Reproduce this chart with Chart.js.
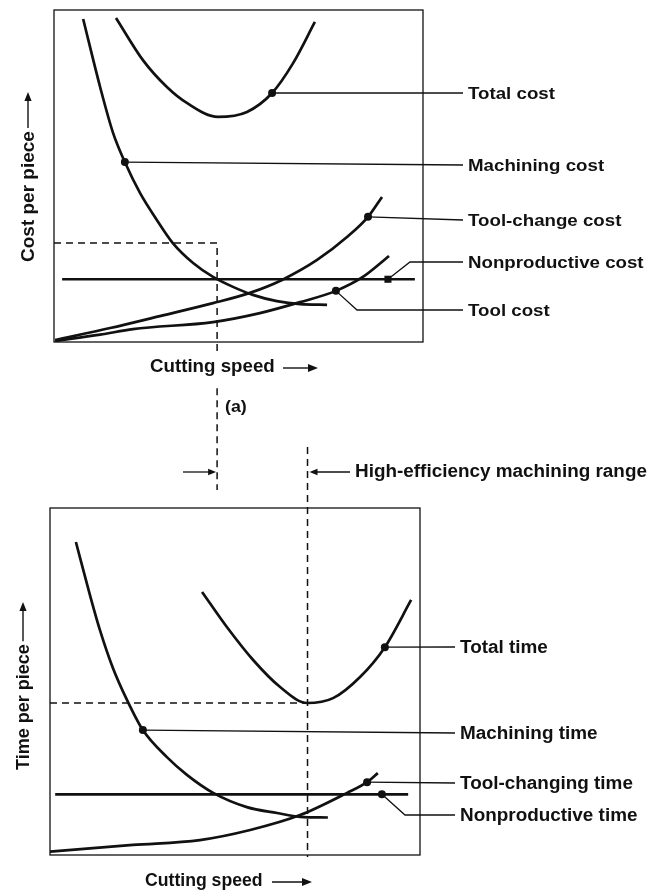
<!DOCTYPE html>
<html>
<head>
<meta charset="utf-8">
<script src="https://cdn.jsdelivr.net/npm/chart.js@4.4.1/dist/chart.umd.min.js"></script>
<style>
  body { margin: 0; background: #fff; }
  #wrap { position: relative; width: 653px; height: 892px; }
  canvas { position: absolute; left: 0; }
  #costChart { top: 0; }
  #timeChart { top: 430px; }
</style>
</head>
<body>
<div id="wrap">
  <canvas id="costChart" width="653" height="500"></canvas>
  <canvas id="timeChart" width="653" height="462"></canvas>
</div>
<script>
// --- (a) cost per piece (0-100 units) ---
const costTotalX = [16.8, 24.1, 30.6, 36.0, 44.4, 52.3, 59.1, 64.8, 70.7];
const costTotalY = [97.6, 84.9, 76.8, 72.0, 67.8, 69.3, 75.0, 84.0, 96.4];
const costMachX = [7.9, 12.5, 16.0, 19.2, 23.3, 27.9, 32.2, 37.7, 43.1, 48.5, 53.9, 60.4, 66.7, 74.0];
const costMachY = [97.3, 76.8, 63.0, 54.2, 44.9, 36.7, 29.8, 23.8, 19.6, 16.6, 14.2, 12.3, 11.4, 11.2];
const costChangeX = [0.3, 15.2, 28.7, 43.1, 53.1, 61.8, 71.3, 79.4, 85.1, 88.9];
const costChangeY = [0.6, 4.2, 7.8, 11.7, 14.8, 18.7, 24.7, 31.6, 37.7, 43.7];
const costNonprodX = [2.2, 90.5, 97.8];
const costNonprodY = [18.9, 18.9, 18.9];
const costToolX = [0.3, 12.5, 21.4, 43.1, 55.8, 66.7, 76.4, 83.7, 90.8];
const costToolY = [0.3, 2.2, 3.9, 6.0, 8.7, 12.0, 15.4, 19.6, 25.9];
const costGuideX = [0, 44.2, 44.2, 44.2, 44.2, 44.2];
const costGuideY = [29.8, 29.8, -3, null, -13.9, -44.6];
const costLabels = ['Total cost', 'Machining cost', 'Tool-change cost', 'Nonproductive cost', 'Tool cost'];

// --- (b) time per piece ---
const timeTotalX = [41.1, 47.8, 54.9, 62.2, 69.5, 76.5, 83.8, 90.5, 97.6];
const timeTotalY = [75.8, 65.7, 56.2, 48.4, 43.8, 45.2, 51.3, 59.9, 73.5];
const timeMachX = [7.0, 10.8, 13.5, 17.0, 20.8, 25.1, 31.6, 37.0, 44.1, 53.2, 61.4, 67.6, 75.1];
const timeMachY = [90.2, 74.9, 64.8, 53.9, 44.7, 36.0, 28.2, 23.1, 17.9, 13.8, 12.1, 11.0, 10.8];
const timeChangeX = [0, 22.4, 40.5, 54.1, 67.6, 80.3, 85.7, 88.6];
const timeChangeY = [1.0, 2.9, 4.3, 7.2, 11.5, 17.9, 21.0, 23.6];
const timeNonprodX = [1.4, 89.7, 96.8];
const timeNonprodY = [17.5, 17.5, 17.5];
const timeGuideHX = [0, 69.6];
const timeGuideHY = [43.8, 43.8];
const timeGuideVX = [69.6, 69.6];
const timeGuideVY = [117.6, -0.6];
const timeLabels = ['Total time', 'Machining time', 'Tool-changing time', 'Nonproductive time'];

const INK = '#111';
const FONT = '"Liberation Sans", Arial, sans-serif';

const pts = (xs, ys) => xs.map((x, i) => ({ x: x, y: ys[i] }));

function curve(xs, ys, mark, style) {
    return {
        data: pts(xs, ys),
        showLine: true,
        borderColor: INK,
        borderWidth: 2.7,
        cubicInterpolationMode: 'monotone',
        pointRadius: xs.map((_, i) => i === mark ? (style === 'rect' ? 5 : 4) : 0),
        pointBackgroundColor: INK,
        pointBorderWidth: 0,
        pointStyle: style || 'circle'
    };
}

function guide(xs, ys) {
    return {
        data: pts(xs, ys),
        showLine: true,
        borderColor: INK,
        borderWidth: 1.5,
        borderDash: [7, 5],
        tension: 0,
        pointRadius: 0,
        spanGaps: false,
        clip: false
    };
}

function arrow(ctx, x1, y1, x2, y2, head) {
    const ang = Math.atan2(y2 - y1, x2 - x1);
    ctx.beginPath();
    ctx.moveTo(x1, y1);
    ctx.lineTo(x2 - Math.cos(ang) * head * 0.6, y2 - Math.sin(ang) * head * 0.6);
    ctx.stroke();
    ctx.beginPath();
    ctx.moveTo(x2, y2);
    ctx.lineTo(x2 - Math.cos(ang) * head - Math.sin(ang) * head * 0.4, y2 - Math.sin(ang) * head + Math.cos(ang) * head * 0.4);
    ctx.lineTo(x2 - Math.cos(ang) * head + Math.sin(ang) * head * 0.4, y2 - Math.sin(ang) * head - Math.cos(ang) * head * 0.4);
    ctx.closePath();
    ctx.fill();
}

// the scanned lettering is a little wider than Liberation Sans
function wideText(ctx, text, x, y, sx) {
    ctx.save();
    ctx.translate(x, y);
    ctx.scale(sx, 1);
    ctx.fillText(text, 0, 0);
    ctx.restore();
}

// draws the frame, leader lines, labels and axis titles
const figurePlugin = {
    id: 'figure',
    afterDatasetsDraw(chart, args, o) {
        const ctx = chart.ctx;
        const a = chart.chartArea;
        ctx.save();
        ctx.strokeStyle = INK;
        ctx.fillStyle = INK;
        ctx.lineWidth = 1.3;
        ctx.strokeRect(a.left, a.top, a.right - a.left, a.bottom - a.top);

        ctx.font = 'bold ' + o.labelSize + 'px ' + FONT;
        ctx.textBaseline = 'middle';
        ctx.lineWidth = 1.3;
        o.leaders.forEach(l => {
            const p = chart.getDatasetMeta(l.ds).data[l.idx];
            ctx.beginPath();
            ctx.moveTo(p.x, p.y);
            (l.via || []).forEach(v => ctx.lineTo(v[0], v[1]));
            ctx.lineTo(o.leaderEnd, l.y);
            ctx.stroke();
            wideText(ctx, l.text, o.textX, l.y + 1, o.stretch);
        });

        // y title, rotated, with arrow
        const yt = o.yTitle;
        ctx.save();
        ctx.translate(yt.x, yt.y);
        ctx.rotate(-Math.PI / 2);
        ctx.font = 'bold ' + yt.size + 'px ' + FONT;
        ctx.textBaseline = 'alphabetic';
        ctx.fillText(yt.text, 0, 0);
        const w = ctx.measureText(yt.text).width;
        ctx.lineWidth = 1.4;
        arrow(ctx, w + 3, -6, yt.arrowTo, -6, 9);
        ctx.restore();

        // x title with arrow
        const xt = o.xTitle;
        ctx.font = 'bold ' + xt.size + 'px ' + FONT;
        ctx.textBaseline = 'middle';
        wideText(ctx, xt.text, xt.x, xt.y, xt.sx);
        ctx.lineWidth = 1.4;
        arrow(ctx, xt.arrowFrom, xt.y + 1, xt.arrowTo, xt.y + 1, 10);

        (o.notes || []).forEach(n => {
            ctx.font = 'bold ' + n.size + 'px ' + FONT;
            wideText(ctx, n.text, n.x, n.y, n.sx);
        });
        (o.pointers || []).forEach(p => {
            const gx = chart.scales.x.getPixelForValue(p.at) + p.off;
            ctx.lineWidth = 1.3;
            arrow(ctx, p.from, p.y, gx, p.y, 8);
        });
        ctx.restore();
    }
};

function makeChart(id, datasets, pad, fig) {
    return new Chart(document.getElementById(id), {
        type: 'scatter',
        data: { datasets: datasets },
        options: {
            responsive: false,
            animation: false,
            devicePixelRatio: 1,
            layout: { padding: pad, autoPadding: false },
            scales: {
                x: { type: 'linear', min: 0, max: 100, display: false },
                y: { type: 'linear', min: 0, max: 100, display: false }
            },
            plugins: {
                legend: { display: false },
                tooltip: { enabled: false },
                figure: fig
            }
        },
        plugins: [figurePlugin]
    });
}

makeChart('costChart', [
    curve(costTotalX, costTotalY, 6),
    curve(costMachX, costMachY, 3),
    curve(costChangeX, costChangeY, 8),
    curve(costNonprodX, costNonprodY, 1, 'rect'),
    curve(costToolX, costToolY, 6),
    guide(costGuideX, costGuideY)
], { left: 54, top: 10, right: 230, bottom: 158 }, {
    labelSize: 17,
    stretch: 1.1,
    leaderEnd: 463,
    textX: 468,
    leaders: [
        { ds: 0, idx: 6, text: costLabels[0], y: 93 },
        { ds: 1, idx: 3, text: costLabels[1], y: 165 },
        { ds: 2, idx: 8, text: costLabels[2], y: 220 },
        { ds: 3, idx: 1, text: costLabels[3], y: 262, via: [[410, 262]] },
        { ds: 4, idx: 6, text: costLabels[4], y: 310, via: [[357, 310]] }
    ],
    yTitle: { text: 'Cost per piece', x: 34, y: 262, size: 19, arrowTo: 170 },
    xTitle: { text: 'Cutting speed', x: 150, y: 367, size: 18, sx: 1.04, arrowFrom: 283, arrowTo: 318 },
    notes: [{ text: '(a)', x: 225, y: 407, size: 17, sx: 1.05 }],
    pointers: [{ at: 44.2, from: 183, y: 472, off: -1 }]
});

makeChart('timeChart', [
    curve(timeTotalX, timeTotalY, 7),
    curve(timeMachX, timeMachY, 5),
    curve(timeChangeX, timeChangeY, 6),
    curve(timeNonprodX, timeNonprodY, 1),
    guide(timeGuideHX, timeGuideHY),
    guide(timeGuideVX, timeGuideVY)
], { left: 50, top: 78, right: 233, bottom: 37 }, {
    labelSize: 18,
    stretch: 1.05,
    leaderEnd: 455,
    textX: 460,
    leaders: [
        { ds: 0, idx: 7, text: timeLabels[0], y: 217 },
        { ds: 1, idx: 5, text: timeLabels[1], y: 303 },
        { ds: 2, idx: 6, text: timeLabels[2], y: 353 },
        { ds: 3, idx: 1, text: timeLabels[3], y: 385, via: [[405, 385]] }
    ],
    yTitle: { text: 'Time per piece', x: 29, y: 340, size: 18, arrowTo: 168 },
    xTitle: { text: 'Cutting speed', x: 145, y: 451, size: 18, sx: 0.98, arrowFrom: 272, arrowTo: 312 },
    notes: [{ text: 'High-efficiency machining range', x: 355, y: 42, size: 18, sx: 1.05 }],
    pointers: [{ at: 69.6, from: 350, y: 42, off: 2 }]
});
</script>
</body>
</html>
